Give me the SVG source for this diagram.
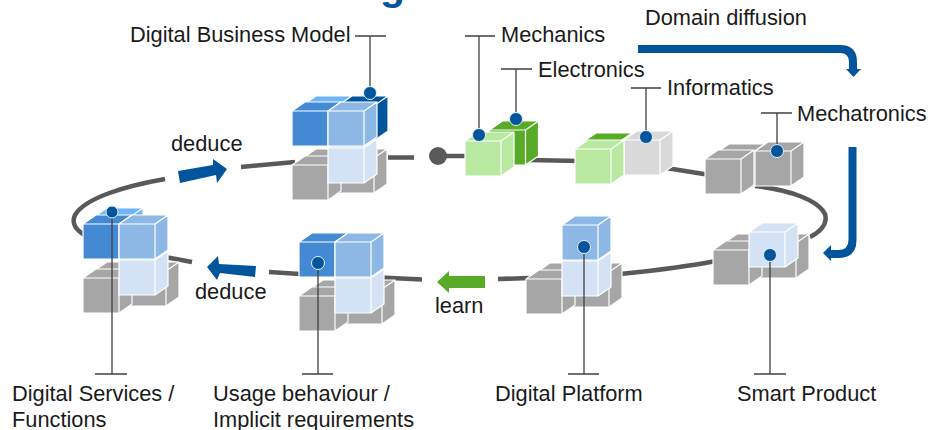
<svg xmlns="http://www.w3.org/2000/svg" width="935" height="430" viewBox="0 0 935 430">
<style>
text{font-family:"Liberation Sans",Arial,sans-serif;font-size:21.800px;fill:#1a1a1a}
.ring{fill:none;stroke:#595959;stroke-width:4.500}
.flow{fill:none;stroke:#00559c;stroke-width:8}
.cube{stroke:#fff;stroke-width:1.2;stroke-linejoin:round}
.lead{fill:none;stroke:#404040;stroke-width:1.3}
.dot{fill:#00559c;stroke:#e8eef6;stroke-width:1}
.blue{fill:#4389d4}.light{fill:#8db8e6}.pale{fill:#d3e3f5}.gray{fill:#a6a6a6}.lgreen{fill:#b9e9a0}.green{fill:#57ab27}.lgray{fill:#d9d9d9}.dark{fill:#00559c}.sky{fill:#6db5f8}
</style>
<defs>
<path id="c" class="cube" d="M0 0h36v35h-36z M0 0l13-9h36l-13 9z M36 0l13-9v35l-13 9z"/>
</defs>
<text x="380" y="0" style="font-size:41px;font-weight:bold;fill:#00559c">g</text>
<g id="connectors">
<path class="ring" d="M165 179C125 186 85 198 75 215C71 224 76 230 86 236"/>
<path class="ring" d="M241 167L295 162"/>
<path class="ring" d="M388 157.500H414"/>
<path class="ring" d="M438 156H470"/>
<path class="ring" d="M528 160L580 161"/>
<path class="ring" d="M660 167L710 175"/>
<path class="ring" d="M755 186C790 190 818 200 825 214C828 224 820 232 810 237"/>
<path class="ring" d="M716 261C680 268 650 271 620 274"/>
<path class="ring" d="M530 278L498 279"/>
<path class="ring" d="M422 279.500L370 277"/>
<path class="ring" d="M300 274L269 272"/>
<path class="ring" d="M192 262L165 257"/>
<circle cx="438" cy="156" r="9" fill="#595959"/>
<polygon class="dark" points="178,171 213,165 213,159 227,169 217,183 216,175 180,183"/>
<polygon class="dark" points="207,267 218,256 219,264 256,266 255,277 220,273 217,280"/>
<polygon class="green" points="437,282 449,271 449,276 485,276 485,288 449,288 449,293"/>
<path class="flow" d="M638 49H840Q853 49 853 62V70"/>
<polygon class="dark" points="846,69 861,69 853.500,77"/>
<path class="flow" d="M852.500 147V240Q852.500 254 838 254H830"/>
<polygon class="dark" points="823,253 831,245 831,261"/>
</g>
<g id="digital-business-model">
<use href="#c" x="303" y="158" class="gray"/><use href="#c" x="338" y="158" class="gray"/><use href="#c" x="292" y="165" class="gray"/><use href="#c" x="328" y="148" class="pale"/>
<use href="#c" x="303" y="105" class="sky"/><use href="#c" x="339" y="105" class="dark"/><use href="#c" x="292" y="111" class="blue"/><use href="#c" x="328" y="111" class="light"/>
<path class="lead" d="M355 36H386M370 36V93"/><circle class="dot" cx="370" cy="93" r="6.500"/>
<text x="130" y="41.700">Digital Business Model</text>
</g>
<g id="electronics">
<use href="#c" x="489.500" y="130" class="green"/>
<path class="lead" d="M501 69H532M516 69V118"/><circle class="dot" cx="516" cy="119" r="6.500"/>
<text x="538" y="76.700">Electronics</text>
</g>
<g id="mechanics">
<use href="#c" x="465" y="141" class="lgreen"/>
<path class="lead" d="M465 36H495M479 36V135"/><circle class="dot" cx="479" cy="135" r="6.500"/>
<text x="501" y="41.700">Mechanics</text>
</g>
<g id="informatics">
<use href="#c" x="583" y="142" class="green"/><use href="#c" x="624" y="140" class="lgray"/><use href="#c" x="575" y="149" class="lgreen"/>
<path class="lead" d="M631 88H661M646 88V136"/><circle class="dot" cx="646" cy="137" r="6.500"/>
<text x="667" y="94.700">Informatics</text>
</g>
<g id="mechatronics">
<use href="#c" x="716" y="153" class="gray"/><use href="#c" x="755" y="151" class="gray"/><use href="#c" x="705" y="159" class="gray"/>
<path class="lead" d="M761 113H792M777 113V150"/><circle class="dot" cx="777" cy="151" r="6.500"/>
<text x="797" y="120.700">Mechatronics</text>
</g>
<g id="smart-product">
<use href="#c" x="724" y="243" class="gray"/><use href="#c" x="760" y="243" class="gray"/><use href="#c" x="713" y="250" class="gray"/><use href="#c" x="749" y="232" class="pale"/>
<path class="lead" d="M754 374H786M770 255V374"/><circle class="dot" cx="770" cy="255" r="6.500"/>
<text x="737" y="400.700">Smart Product</text>
</g>
<g id="digital-platform">
<use href="#c" x="537" y="272" class="gray"/><use href="#c" x="573" y="272" class="gray"/><use href="#c" x="526" y="279" class="gray"/><use href="#c" x="562" y="261" class="pale"/><use href="#c" x="562" y="225" class="light"/>
<path class="lead" d="M568 374H599M584 248V374"/><circle class="dot" cx="584" cy="247" r="6.500"/>
<text x="495" y="400.700">Digital Platform</text>
</g>
<g id="usage-behaviour">
<use href="#c" x="310" y="289" class="gray"/><use href="#c" x="346" y="289" class="gray"/><use href="#c" x="299" y="296" class="gray"/><use href="#c" x="335" y="278" class="pale"/><use href="#c" x="299" y="242" class="blue"/><use href="#c" x="335" y="242" class="light"/>
<path class="lead" d="M302 374H333M318 263V374"/><circle class="dot" cx="318" cy="263" r="6.500"/>
<text x="213" y="400.700">Usage behaviour /</text><text x="213" y="426.700">Implicit requirements</text>
</g>
<g id="digital-services">
<use href="#c" x="94" y="271" class="gray"/><use href="#c" x="130" y="271" class="gray"/><use href="#c" x="83" y="278" class="gray"/><use href="#c" x="119" y="260" class="pale"/><use href="#c" x="94" y="217" class="sky"/><use href="#c" x="83" y="224" class="blue"/><use href="#c" x="119" y="224" class="light"/>
<path class="lead" d="M95 374H127M112 212V374"/><circle class="dot" cx="112" cy="212" r="6"/>
<text x="12" y="400.700">Digital Services /</text><text x="12" y="426.700">Functions</text>
</g>
<text x="171" y="150.700">deduce</text>
<text x="195" y="298.700">deduce</text>
<text x="435" y="312.700">learn</text>
<text x="645" y="24.700">Domain diffusion</text>
</svg>
